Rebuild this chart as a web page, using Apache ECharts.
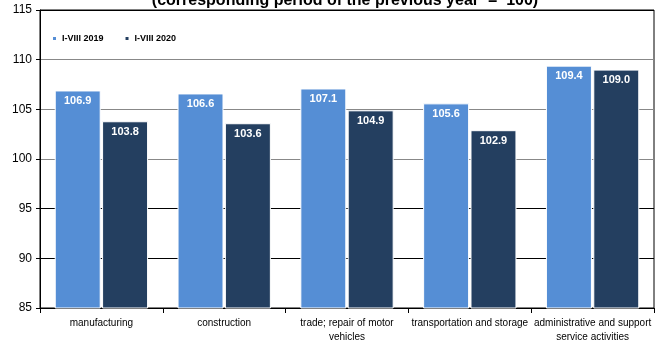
<!DOCTYPE html>
<html>
<head>
<meta charset="utf-8">
<script src="https://cdn.jsdelivr.net/npm/echarts@6/dist/echarts.min.js"></script>
<style>
  html, body { margin: 0; padding: 0; background: #fff; }
  #chart { width: 656px; height: 341px; }
</style>
</head>
<body>
<div id="chart"></div>
<script>
// Growth indices by activity, same period of previous year = 100
const categories = [
  'manufacturing',
  'construction',
  'trade; repair of motor\nvehicles',
  'transportation and storage',
  'administrative and support\nservice activities'
];
const series2019 = [106.9, 106.6, 107.1, 105.6, 109.4];
const series2020 = [103.8, 103.6, 104.9, 102.9, 109.0];
const yTicks = [85, 90, 95, 100, 105, 110, 115];

const FONT = '"Liberation Sans", Arial, sans-serif';

// Gridlines below the 100 base are drawn black, the rest grey
const gridColors = yTicks.map(v => (v < 100 || v === 115 ? '#000' : '#888'));

const chart = echarts.init(document.getElementById('chart'), null, { renderer: 'canvas' });

const barLabel = {
  show: true,
  position: 'insideTop',
  distance: 5,
  color: '#fff',
  fontWeight: 'bold',
  fontSize: 11,
  fontFamily: FONT,
  formatter: p => p.value.toFixed(1)
};

chart.setOption({
  animation: false,
  title: {
    text: '(corresponding period of the previous year  =  100)',
    left: 340,
    textAlign: 'center',
    top: -12,
    textStyle: { fontSize: 16, fontWeight: 'bold', color: '#000', fontFamily: FONT }
  },
  legend: {
    left: 46,
    top: 29,
    itemWidth: 5,
    itemHeight: 5,
    itemGap: 20,
    icon: 'rect',
    textStyle: { fontSize: 9, fontWeight: 'bold', color: '#000', fontFamily: FONT },
    data: ['I-VIII 2019', 'I-VIII 2020']
  },
  grid: {
    left: 40,
    right: 2,
    top: 10,
    bottom: 33,
    containLabel: false,
    outerBoundsMode: 'none',
    show: true,
    borderColor: '#000',
    borderWidth: 1,
    backgroundColor: 'transparent'
  },
  xAxis: {
    type: 'category',
    data: categories,
    axisLine: { lineStyle: { color: '#000', width: 1 } },
    axisTick: { show: true, length: 5, lineStyle: { color: '#000' } },
    axisLabel: {
      interval: 0,
      color: '#000',
      fontSize: 10,
      fontFamily: FONT,
      lineHeight: 14,
      margin: 8
    }
  },
  yAxis: {
    type: 'value',
    min: yTicks[0],
    max: yTicks[yTicks.length - 1],
    interval: 5,
    axisLine: { show: true, lineStyle: { color: '#000', width: 1 } },
    axisTick: { show: true, length: 4, lineStyle: { color: '#000' } },
    axisLabel: { color: '#000', fontSize: 12, fontFamily: FONT, margin: 8 },
    splitLine: { show: true, lineStyle: { color: gridColors, width: 1 } }
  },
  series: [
    {
      name: 'I-VIII 2019',
      type: 'bar',
      data: series2019,
      barGap: '3%',
      barCategoryGap: '24%',
      itemStyle: { color: '#558ED5', borderColor: '#fff', borderWidth: 1 },
      label: barLabel
    },
    {
      name: 'I-VIII 2020',
      type: 'bar',
      data: series2020,
      itemStyle: { color: '#243F60', borderColor: '#fff', borderWidth: 1 },
      label: barLabel
    }
  ]
});
</script>
</body>
</html>
